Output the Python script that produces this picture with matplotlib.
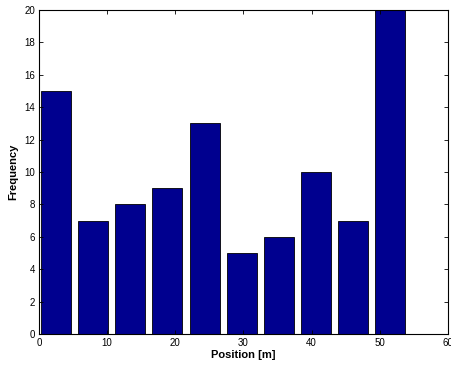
import matplotlib
matplotlib.use("Agg")
import matplotlib.pyplot as plt
import numpy as np

plt.rcParams['font.family'] = ['Liberation Sans', 'DejaVu Sans']

bin_centers = [2.5, 7.94, 13.39, 18.83, 24.28, 29.72, 35.17, 40.61, 46.06, 51.5]
frequency = [15, 7, 8, 9, 13, 5, 6, 10, 7, 20]
x_ticks = [0, 10, 20, 30, 40, 50, 60]
y_ticks = [0, 2, 4, 6, 8, 10, 12, 14, 16, 18, 20]

fig = plt.figure(figsize=(4.52, 3.69), dpi=100)
ax = fig.add_axes([39/452, 1-334/369, (448-39)/452, (334-10)/369])

ax.bar(bin_centers, frequency, width=4.4, color='#00008F', edgecolor='black', linewidth=0.6)
ax.set_xlim(0, 60)
ax.set_ylim(0, 20)
ax.set_xticks(x_ticks)
ax.set_yticks(y_ticks)
ax.tick_params(direction='in', top=True, right=True, labelsize=7, length=3, width=0.6, pad=3)
for s in ax.spines.values():
    s.set_linewidth(0.8)
ax.set_xlabel('Position [m]', fontsize=8, fontweight='bold', labelpad=1)
ax.set_ylabel('Frequency', fontsize=8, fontweight='bold', labelpad=4)

fig.savefig('out.png', dpi=100)
